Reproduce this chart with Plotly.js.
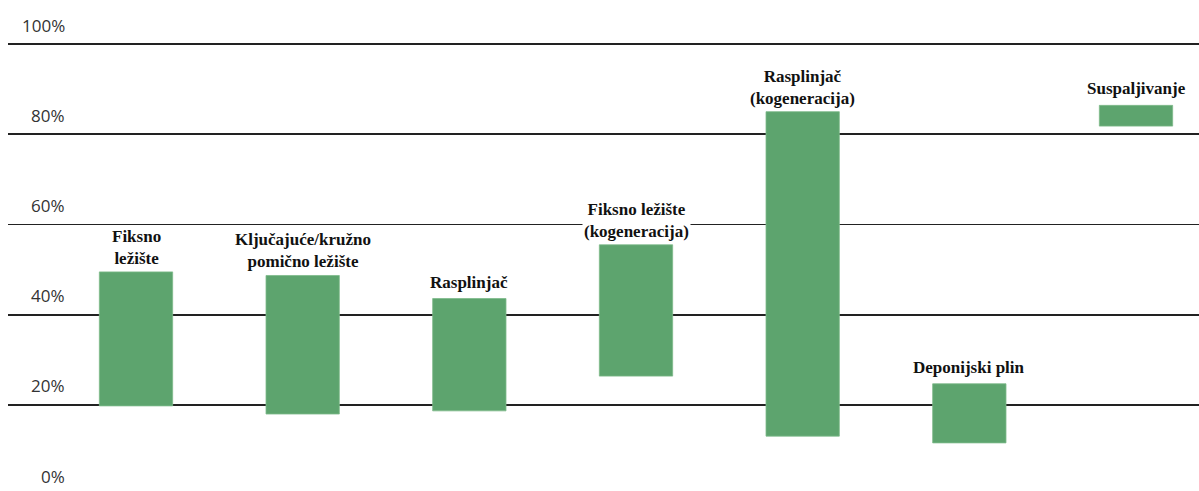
<!DOCTYPE html>
<html>
<head>
<meta charset="utf-8">
<script src="https://cdn.plot.ly/plotly-3.0.1.min.js"></script>
<style>html,body{margin:0;padding:0;background:#fff;}#chart{width:1199px;height:491px;}</style>
</head>
<body>
<div id="chart"></div>
<script>
const categories = ["Fiksno<br>ležište", "Ključajuće/kružno<br>pomično ležište", "Rasplinjač", "Fiksno ležište<br>(kogeneracija)", "Rasplinjač<br>(kogeneracija)", "Deponijski plin", "Suspaljivanje"];
const lowValues = [19.8, 18.0, 18.7, 26.4, 13.1, 11.6, 81.8];
const highValues = [49.5, 48.7, 43.6, 55.5, 85.0, 24.7, 86.4];
const tickValues = [0, 20, 40, 60, 80, 100];
const tickLabels = ["0%", "20%", "40%", "60%", "80%", "100%"];

const yRange = [0.94, 109.75];
const plotHeight = 491;
const pxPerUnit = plotHeight / (yRange[1] - yRange[0]);

const xs = categories.map((c, i) => i);
const trace = {
  type: 'bar',
  x: xs,
  y: highValues.map((h, i) => h - lowValues[i]),
  base: lowValues,
  width: 0.44,
  marker: {color: '#5da46e', line: {color: '#7dba8a', width: 0.8}},
  hoverinfo: 'none'
};

const annotations = [];
categories.forEach((c, i) => {
  const single = c.indexOf('<br>') < 0;
  annotations.push({
    x: i, y: highValues[i], xref: 'x', yref: 'y',
    text: c, showarrow: false, xanchor: 'center', yanchor: 'bottom', yshift: single ? 5 : 2,
    bgcolor: '#ffffff', borderpad: 1,
    font: {family: 'Liberation Serif', size: 17, color: '#111111', weight: 'bold'}
  });
});
tickValues.forEach((v, i) => {
  // keep the anchor inside the visible range; compensate with a pixel shift
  const yy = Math.max(v, yRange[0] + 0.05);
  annotations.push({
    x: -0.414, y: yy, xref: 'x', yref: 'y',
    text: tickLabels[i], showarrow: false, xanchor: 'right', yanchor: 'middle',
    yshift: 19 - (yy - v) * pxPerUnit,
    font: {family: 'Open Sans', size: 17, color: '#333333'}
  });
});

const layout = {
  width: 1199, height: 491,
  margin: {l: 8, r: 0, t: 0, b: 0},
  paper_bgcolor: '#ffffff', plot_bgcolor: '#ffffff',
  showlegend: false,
  xaxis: {range: [-0.768, 6.378], showgrid: false, zeroline: false, showticklabels: false, showline: false, ticks: ''},
  yaxis: {range: yRange, tickvals: tickValues, showgrid: true, gridcolor: '#222222', gridwidth: 1.8,
          zeroline: false, showticklabels: false, showline: false, ticks: ''},
  annotations: annotations
};

Plotly.newPlot('chart', [trace], layout, {staticPlot: true, displayModeBar: false});
</script>
</body>
</html>
